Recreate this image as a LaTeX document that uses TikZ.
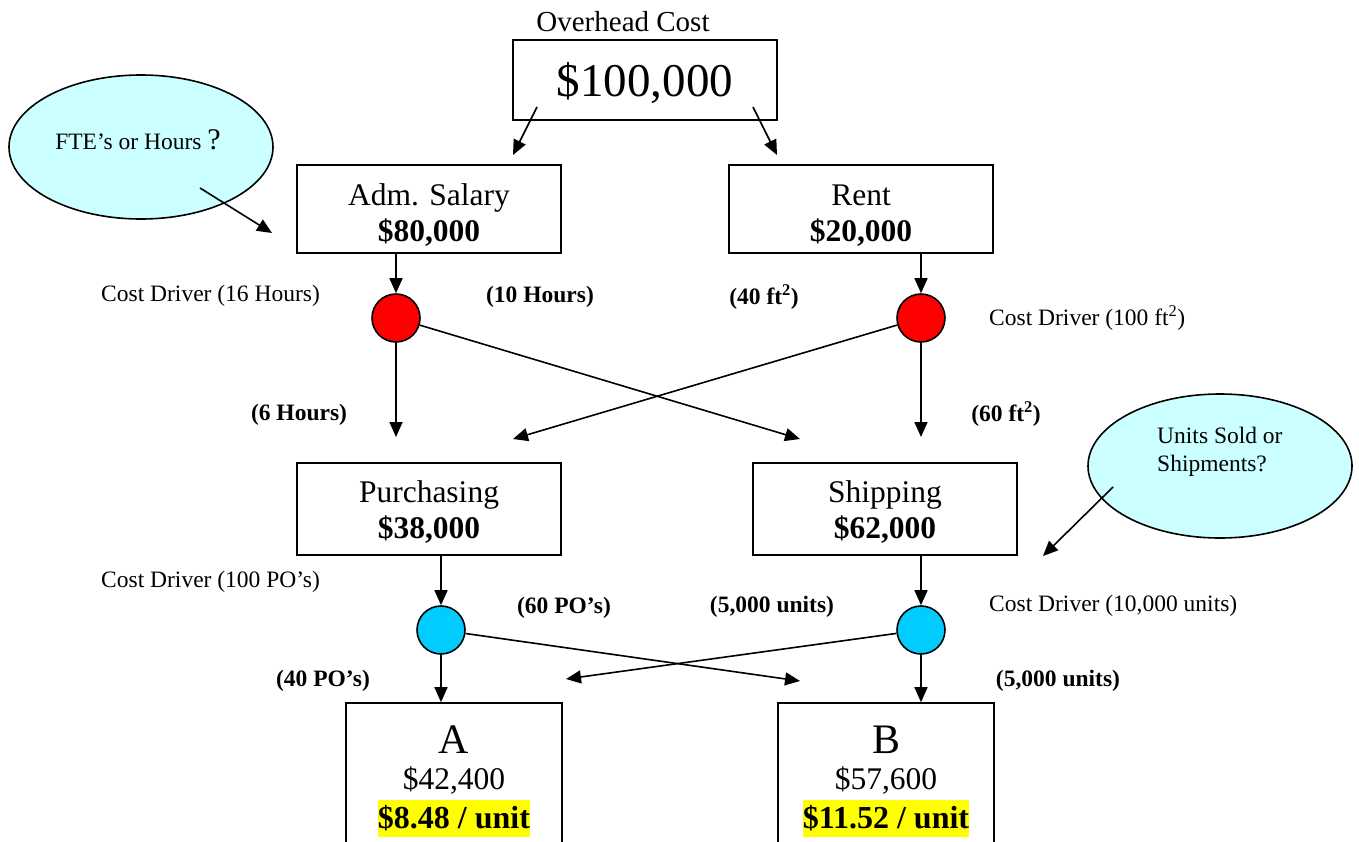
\documentclass[tikz,border=0pt]{standalone}
\usepackage{fontspec}
\setmainfont{Liberation Serif}
\usetikzlibrary{shapes.geometric,arrows.meta}
\definecolor{redc}{HTML}{FF0000}
\definecolor{bluec}{HTML}{00CCFF}
\definecolor{bubc}{HTML}{CCFFFF}
\definecolor{hl}{HTML}{FFFF00}
\begin{document}
\begin{tikzpicture}[x=1pt,y=-1pt,
 box/.style={draw, line width=1.6pt, minimum width=264pt, minimum height=88pt, align=center, inner sep=0pt, font=\fontsize{31.5}{36}\selectfont},
 prod/.style={draw, line width=1.6pt, minimum width=216pt, minimum height=160pt, inner sep=0pt},
 dot/.style={circle, draw, line width=1.6pt, minimum size=48pt, inner sep=0pt},
 bubble/.style={ellipse, draw, line width=1.6pt, fill=bubc, minimum width=264pt, minimum height=144pt, inner sep=0pt},
 arr/.style={line width=1.6pt, -{Triangle[length=15pt,width=13pt]}},
 small/.style={font=\fontsize{23.5}{28}\selectfont, inner sep=0pt},
 smallb/.style={font=\fontsize{23.5}{28}\selectfont\bfseries, inner sep=0pt},
 hlbox/.style={font=\fontsize{32}{34}\selectfont\bfseries, fill=hl, inner xsep=0pt, inner ysep=0pt, minimum height=37pt},
]
\useasboundingbox (0,0) rectangle (1359,841);
\clip (0,0) rectangle (1359,841);

% title and boxes
\node[small, font=\fontsize{29}{33}\selectfont] (ohl) at (623,22) {Overhead Cost};
\node[box, minimum height=80pt, font=\fontsize{47}{50}\selectfont] (top) at (645,80) {\rule{0pt}{41pt}\$100,000};
\node[box] (adm) at (429,209) {\rule{0pt}{34pt}Adm. Salary\\\textbf{\$80,000}};
\node[box] (rent) at (861,209) {\rule{0pt}{34pt}Rent\\\textbf{\$20,000}};
\node[box, minimum height=92pt] (pur) at (429,509) {\rule{0pt}{28pt}Purchasing\\\textbf{\$38,000}};
\node[box, minimum height=92pt] (shp) at (885,509) {\rule{0pt}{28pt}Shipping\\\textbf{\$62,000}};

% driver circles
\node[dot, fill=redc] (r1) at (396,318) {};
\node[dot, fill=redc] (r2) at (921,318) {};
\node[dot, fill=bluec] (c1) at (441,630) {};
\node[dot, fill=bluec] (c2) at (921,630) {};

% product boxes
\node[prod] (pa) at (454,783) {};
\node[prod] (pb) at (886,783) {};
\node[inner sep=0pt, font=\fontsize{42}{44}\selectfont] (pat) at (454,740) {A};
\node[inner sep=0pt, font=\fontsize{31.5}{34}\selectfont] (pav) at (454,781) {\$42,400};
\node[hlbox] (pau) at (454,818) {\$8.48 / unit};
\node[inner sep=0pt, font=\fontsize{42}{44}\selectfont] (pbt) at (886,740) {B};
\node[inner sep=0pt, font=\fontsize{31.5}{34}\selectfont] (pbv) at (886,781) {\$57,600};
\node[hlbox] (pbu) at (886,818) {\$11.52 / unit};

% labels
\node[small, anchor=west] (cd1) at (101,296) {Cost Driver (16 Hours)};
\node[smallb] (l10) at (540,297) {(10 Hours)};
\node[smallb] (l40) at (764,297) {(40 ft\textsuperscript{2})};
\node[small, anchor=west] (cd2) at (989,318) {Cost Driver (100 ft\textsuperscript{2})};
\node[smallb] (l6) at (299,415) {(6 Hours)};
\node[smallb] (l60) at (1006,414) {(60 ft\textsuperscript{2})};
\node[small, anchor=west] (cd3) at (101,582) {Cost Driver (100 PO’s)};
\node[smallb] (l60p) at (564,608) {(60 PO’s)};
\node[smallb] (l5a) at (772,607) {(5,000 units)};
\node[small, anchor=west] (cd4) at (989,606) {Cost Driver (10,000 units)};
\node[smallb] (l40p) at (323,681) {(40 PO’s)};
\node[smallb] (l5b) at (1058,681) {(5,000 units)};

% bubbles
\node[bubble] (b1) at (141,147) {};
\node[small] (b1t) at (138,140) {FTE’s or Hours {\fontsize{30}{30}\selectfont ?}};
\node[bubble] (b2) at (1220,466) {};
\node[small, align=left, anchor=west] (b2t) at (1157,452) {Units Sold or\\Shipments?};

% free arrow ends
\coordinate (t1) at (537,107); \coordinate (t1e) at (513,155);
\coordinate (t2) at (753,107); \coordinate (t2e) at (777,155);
\coordinate (b1s) at (200,188); \coordinate (b1e) at (272,233);
\coordinate (b2s) at (1113,487); \coordinate (b2e) at (1043,556);
\coordinate (r1d) at (396,437); \coordinate (r1x) at (800,439);
\coordinate (r2x) at (513,439); \coordinate (r2d) at (921,437);
\coordinate (c1x) at (800,681); \coordinate (c2x) at (566,679);

% connectors
\draw[arr] (t1) -- (t1e);
\draw[arr] (t2) -- (t2e);
\draw[arr] (b1s) -- (b1e);
\draw[arr] (b2s) -- (b2e);
\draw[arr] (adm.south -| r1) -- (r1.north);
\draw[arr] (rent.south -| r2) -- (r2.north);
\draw[arr] (r1) -- (r1d);
\draw[arr] (r1) -- (r1x);
\draw[arr] (r2) -- (r2x);
\draw[arr] (r2) -- (r2d);
\draw[arr] (pur.south -| c1) -- (c1.north);
\draw[arr] (shp.south -| c2) -- (c2.north);
\draw[arr] (c1) -- (c1x);
\draw[arr] (c2) -- (c2x);
\draw[arr] (c1) -- (pa.north -| c1);
\draw[arr] (c2) -- (pb.north -| c2);
\end{tikzpicture}
\end{document}
